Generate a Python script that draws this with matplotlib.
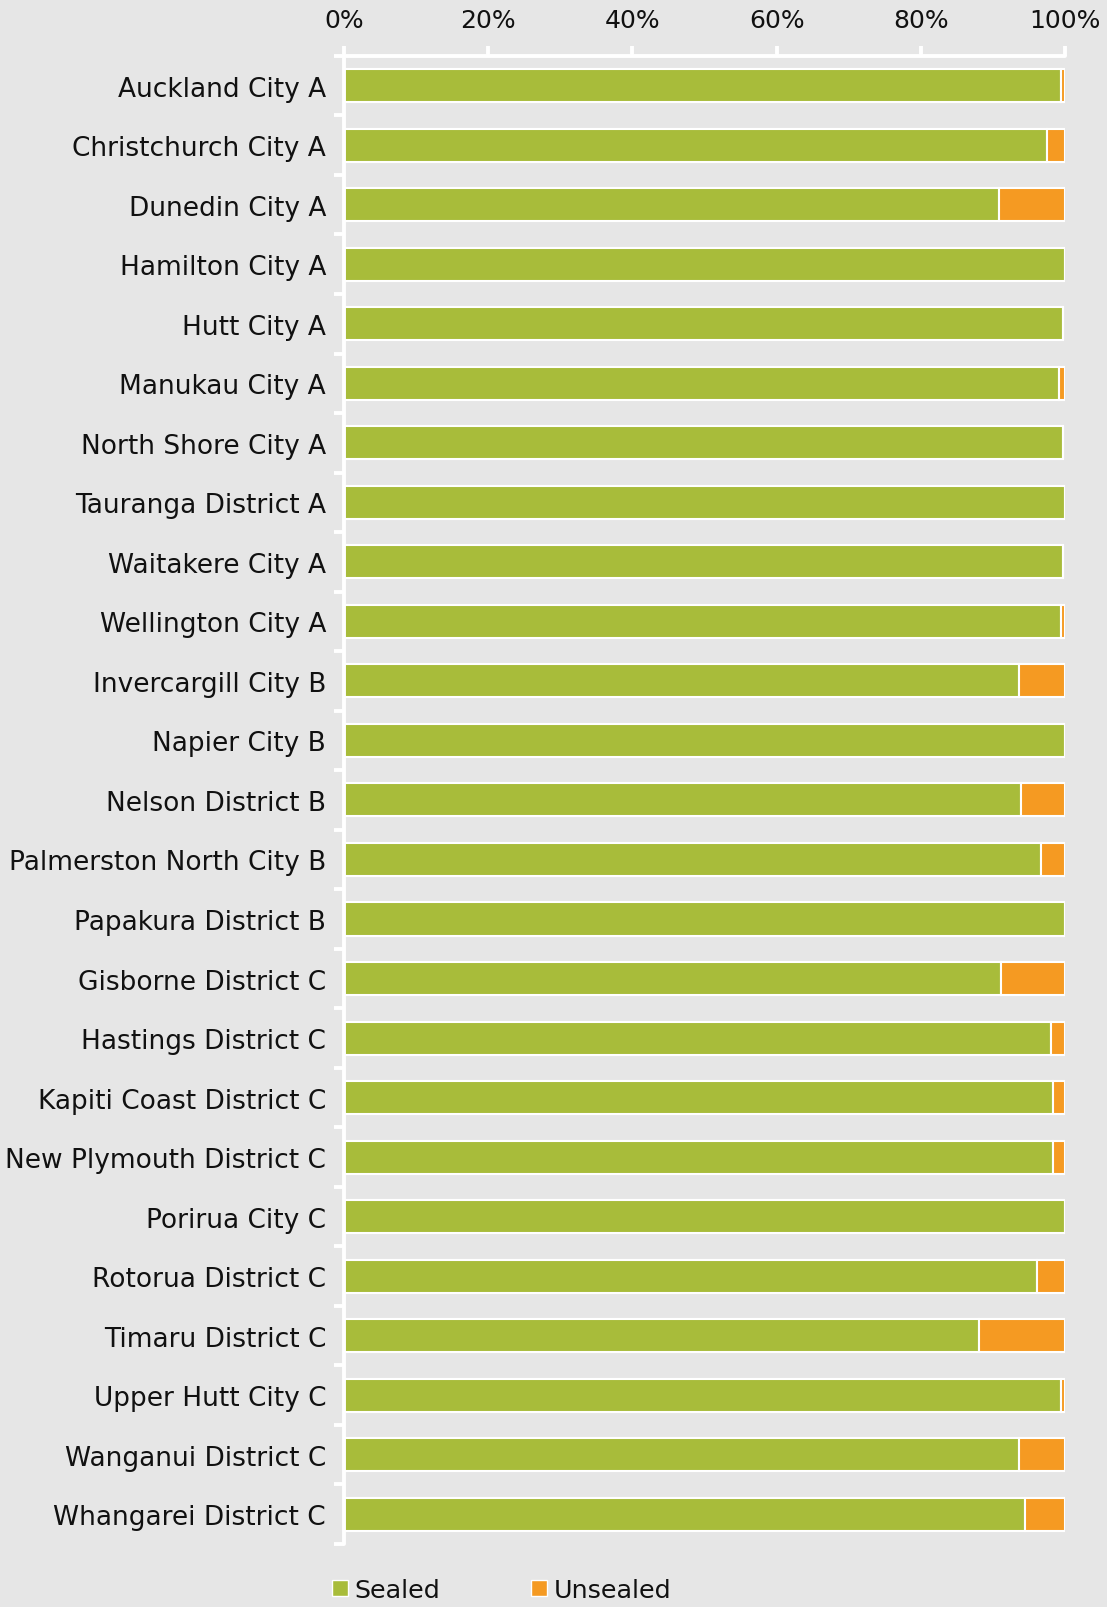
import matplotlib
matplotlib.use("Agg")
import matplotlib.pyplot as plt
from matplotlib.patches import Patch

councils = [
    "Auckland City A", "Christchurch City A", "Dunedin City A", "Hamilton City A",
    "Hutt City A", "Manukau City A", "North Shore City A", "Tauranga District A",
    "Waitakere City A", "Wellington City A", "Invercargill City B", "Napier City B",
    "Nelson District B", "Palmerston North City B", "Papakura District B",
    "Gisborne District C", "Hastings District C", "Kapiti Coast District C",
    "New Plymouth District C", "Porirua City C", "Rotorua District C",
    "Timaru District C", "Upper Hutt City C", "Wanganui District C",
    "Whangarei District C",
]
sealed = [99.4, 97.5, 90.8, 100.0, 99.7, 99.2, 99.7, 100.0, 99.7, 99.4,
          93.6, 100.0, 93.9, 96.7, 100.0, 91.1, 98.1, 98.3, 98.3, 100.0,
          96.1, 88.1, 99.4, 93.6, 94.4]
unsealed = [0.6, 2.5, 9.2, 0.0, 0.0, 0.8, 0.0, 0.0, 0.0, 0.6,
            6.4, 0.0, 6.1, 3.3, 0.0, 8.9, 1.9, 1.7, 1.7, 0.0,
            3.9, 11.9, 0.6, 6.4, 5.6]

bg = "#e6e6e6"
green = "#a8bc3a"
orange = "#f59a22"
txt = "#111111"

plt.rcParams["font.family"] = "DejaVu Sans"

fig = plt.figure(figsize=(11.07, 16.08), dpi=100, facecolor=bg)
ax = fig.add_axes([0.3108, 0.0392, 0.6512, 0.9254], facecolor=bg)

y = list(range(len(councils)))
ax.barh(y, sealed, height=0.555, color=green, edgecolor="white", linewidth=1.5, label="Sealed")
ax.barh(y, unsealed, left=sealed, height=0.555, color=orange, edgecolor="white", linewidth=1.5, label="Unsealed")

ax.set_xlim(0, 100)
ax.set_ylim(len(councils) - 0.5, -0.5)
ax.xaxis.tick_top()
ax.set_xticks([0, 20, 40, 60, 80, 100])
ax.set_xticklabels(["0%", "20%", "40%", "60%", "80%", "100%"])
# white ticks sit on the category boundaries, labels on the (minor) centres
ax.set_yticks([i - 0.5 for i in range(len(councils) + 1)])
ax.set_yticklabels([])
ax.set_yticks(y, minor=True)
ax.set_yticklabels(councils, minor=True)
ax.tick_params(axis="y", which="minor", length=0, pad=13, labelsize=19, colors=txt)
ax.tick_params(axis="y", which="major", length=7.5, width=2.8, color="white")
ax.tick_params(axis="x", length=7.5, width=2.8, color="white", pad=10, labelsize=18, labelcolor=txt)

for side in ["right", "bottom"]:
    ax.spines[side].set_visible(False)
for side in ["left", "top"]:
    ax.spines[side].set_color("white")
    ax.spines[side].set_linewidth(2.8)
    ax.spines[side].set_capstyle("round")

handles = [Patch(facecolor=green, edgecolor="white", linewidth=1, label="Sealed"),
           Patch(facecolor=orange, edgecolor="white", linewidth=1, label="Unsealed")]
fig.legend(handles=handles, loc="center left", bbox_to_anchor=(0.2999, 0.0106), ncol=2,
           frameon=False, borderpad=0, borderaxespad=0, handlelength=0.62, handleheight=0.62,
           handletextpad=0.28, columnspacing=3.55, fontsize=18.3, labelcolor=txt)

fig.savefig("out.png", dpi=100, facecolor=bg)
